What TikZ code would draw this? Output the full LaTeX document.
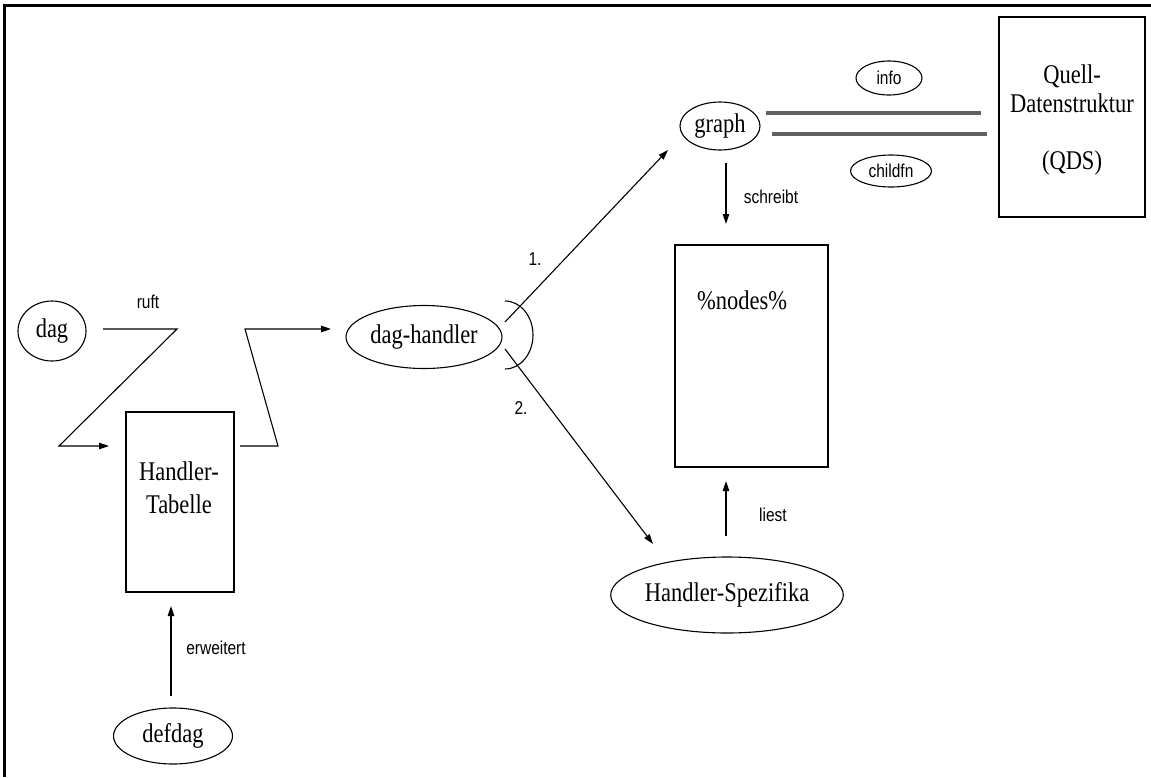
\documentclass[tikz,border=0pt]{standalone}
\usepackage{graphicx}
\usepackage{fontspec}
\setmainfont{Liberation Serif}
\setsansfont{Liberation Sans}
\usetikzlibrary{shapes.geometric,arrows.meta}
% slightly tall lettering
\newcommand{\tallish}[1]{\scalebox{1}[1.2]{#1}}
\begin{document}
\begin{tikzpicture}[x=1pt,y=-1pt,
  line width=1.1pt,
  serif/.style={font=\fontsize{22.5}{27}\selectfont, inner sep=0},
  lbl/.style={font=\sffamily\fontsize{15.5}{18}\selectfont, inner sep=0},
  oval/.style={draw, ellipse, inner sep=0, serif},
  box/.style={draw, rectangle, inner sep=0},
  arr/.style={-{Triangle[length=10pt,width=6.5pt]}},
  rail/.style={draw=black!62, line width=4pt}]
\useasboundingbox (0,0) rectangle (1151,777);
% frame: top and left edges only
\draw[line width=3pt] (1151,5.5) -- (4.5,5.5) -- (4.5,777);

% nodes
\node[oval, minimum width=68, minimum height=60] (dag) at (52,331) {\tallish{dag}};
\node[box, minimum width=108, minimum height=180] (ht) at (180,502) {};
\node[serif] (httext1) at (179,471) {\tallish{Handler-}};
\node[serif] (httext2) at (179,504) {\tallish{Tabelle}};
\node[oval, minimum width=156, minimum height=63] (dh) at (424,337) {\tallish{dag-handler}};
\node[oval, minimum width=80, minimum height=48] (graph) at (720,126) {\tallish{graph}};
\node[box, minimum width=153, minimum height=222] (nodes) at (751.5,356) {};
\node[serif] (nodestext) at (742,300) {\tallish{\%nodes\%}};
\node[oval, minimum width=207, minimum height=76] (hs) at (727,595) {\tallish{Handler-Spezifika}};
\node[oval, minimum width=119, minimum height=56] (defdag) at (173,736) {\tallish{defdag}};
\node[box, minimum width=146, minimum height=200] (qds) at (1072,117) {};
\node[serif] (qdstext1) at (1072,76) {\tallish{Quell-}};
\node[serif] (qdstext2) at (1072,103) {\tallish{Datenstruktur}};
\node[serif] (qdsabbr) at (1072,163) {\tallish{(QDS)}};
\node[draw, ellipse, inner sep=0, minimum width=66, minimum height=34, lbl] (info) at (889,78) {\tallish{info}};
\node[draw, ellipse, inner sep=0, minimum width=81, minimum height=32, lbl] (childfn) at (891,171) {\tallish{childfn}};

% call path dag -> Handler-Tabelle
\coordinate (r1) at (103,329);
\coordinate (r2) at (177,329);
\coordinate (r3) at (59,446);
\coordinate (r4) at (109,446);
\draw[arr] (r1) -- (r2) -- (r3) -- (r4);
\node[lbl] (ruft) at (148,302) {\tallish{ruft}};

% Handler-Tabelle -> dag-handler
\coordinate (s1) at (240,446);
\coordinate (s2) at (278,446);
\coordinate (s3) at (245,329);
\coordinate (s4) at (331,329);
\draw[arr] (s1) -- (s2) -- (s3) -- (s4);

% dispatch arc at dag-handler
\draw (505,301) arc[start angle=-90, end angle=90, x radius=28, y radius=34];
\coordinate (d1) at (505,322);
\coordinate (d2) at (505,349);
\coordinate (g1) at (668,150);
\coordinate (h1) at (653,544);
\draw[arr] (d1) -- (g1);
\draw[arr] (d2) -- (h1);
\node[lbl] (one) at (535,259) {\tallish{1.}};
\node[lbl] (two) at (521,408) {\tallish{2.}};

% graph writes %nodes%
\coordinate (w1) at (726,163);
\coordinate (w2) at (726,224);
\draw[arr] (w1) -- (w2);
\node[lbl] (schreibt) at (771,197) {\tallish{schreibt}};

% Handler-Spezifika reads %nodes%
\coordinate (l1) at (726,536);
\coordinate (l2) at (726,481);
\draw[arr] (l1) -- (l2);
\node[lbl] (liest) at (773,515) {\tallish{liest}};

% defdag extends Handler-Tabelle
\coordinate (e1) at (171,696);
\coordinate (e2) at (171,606);
\draw[arr] (e1) -- (e2);
\node[lbl] (erweitert) at (216,648) {\tallish{erweitert}};

% graph <-> source data structure
\coordinate (p1) at (766,113);
\coordinate (p2) at (981,113);
\coordinate (q1) at (772,134);
\coordinate (q2) at (987,134);
\draw[rail] (p1) -- (p2);
\draw[rail] (q1) -- (q2);
\end{tikzpicture}
\end{document}
